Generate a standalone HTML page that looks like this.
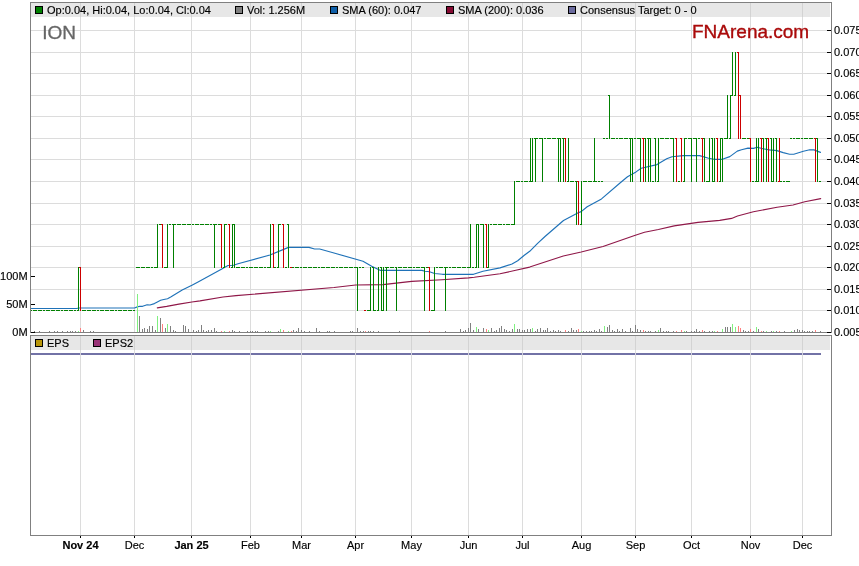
<!DOCTYPE html>
<html lang="en"><head><meta charset="utf-8"><title>ION chart</title>
<style>html,body{margin:0;padding:0;background:#fff;}svg{display:block;}</style>
</head><body>
<svg width="859" height="566" viewBox="0 0 859 566" font-family="'Liberation Sans', Arial, sans-serif" font-size="11px">
<rect x="0" y="0" width="859" height="566" fill="#ffffff"/>
<g shape-rendering="crispEdges">
<rect x="31" y="310" width="800" height="1" fill="#dcdcdc"/>
<rect x="31" y="289" width="800" height="1" fill="#dcdcdc"/>
<rect x="31" y="267" width="800" height="1" fill="#dcdcdc"/>
<rect x="31" y="246" width="800" height="1" fill="#dcdcdc"/>
<rect x="31" y="224" width="800" height="1" fill="#dcdcdc"/>
<rect x="31" y="203" width="800" height="1" fill="#dcdcdc"/>
<rect x="31" y="181" width="800" height="1" fill="#dcdcdc"/>
<rect x="31" y="159" width="800" height="1" fill="#dcdcdc"/>
<rect x="31" y="138" width="800" height="1" fill="#dcdcdc"/>
<rect x="31" y="116" width="800" height="1" fill="#dcdcdc"/>
<rect x="31" y="95" width="800" height="1" fill="#dcdcdc"/>
<rect x="31" y="73" width="800" height="1" fill="#dcdcdc"/>
<rect x="31" y="52" width="800" height="1" fill="#dcdcdc"/>
<rect x="31" y="30" width="800" height="1" fill="#dcdcdc"/>
<rect x="80" y="3" width="1" height="329" fill="#dcdcdc"/>
<rect x="80" y="336" width="1" height="199" fill="#dcdcdc"/>
<rect x="134" y="3" width="1" height="329" fill="#dcdcdc"/>
<rect x="134" y="336" width="1" height="199" fill="#dcdcdc"/>
<rect x="191" y="3" width="1" height="329" fill="#dcdcdc"/>
<rect x="191" y="336" width="1" height="199" fill="#dcdcdc"/>
<rect x="250" y="3" width="1" height="329" fill="#dcdcdc"/>
<rect x="250" y="336" width="1" height="199" fill="#dcdcdc"/>
<rect x="301" y="3" width="1" height="329" fill="#dcdcdc"/>
<rect x="301" y="336" width="1" height="199" fill="#dcdcdc"/>
<rect x="355" y="3" width="1" height="329" fill="#dcdcdc"/>
<rect x="355" y="336" width="1" height="199" fill="#dcdcdc"/>
<rect x="411" y="3" width="1" height="329" fill="#dcdcdc"/>
<rect x="411" y="336" width="1" height="199" fill="#dcdcdc"/>
<rect x="468" y="3" width="1" height="329" fill="#dcdcdc"/>
<rect x="468" y="336" width="1" height="199" fill="#dcdcdc"/>
<rect x="522" y="3" width="1" height="329" fill="#dcdcdc"/>
<rect x="522" y="336" width="1" height="199" fill="#dcdcdc"/>
<rect x="581" y="3" width="1" height="329" fill="#dcdcdc"/>
<rect x="581" y="336" width="1" height="199" fill="#dcdcdc"/>
<rect x="635" y="3" width="1" height="329" fill="#dcdcdc"/>
<rect x="635" y="336" width="1" height="199" fill="#dcdcdc"/>
<rect x="691" y="3" width="1" height="329" fill="#dcdcdc"/>
<rect x="691" y="336" width="1" height="199" fill="#dcdcdc"/>
<rect x="750" y="3" width="1" height="329" fill="#dcdcdc"/>
<rect x="750" y="336" width="1" height="199" fill="#dcdcdc"/>
<rect x="802" y="3" width="1" height="329" fill="#dcdcdc"/>
<rect x="802" y="336" width="1" height="199" fill="#dcdcdc"/>
</g>
<polyline points="157.3,307.9 166.7,306.4 178.9,304.1 191.9,302.0 200.0,300.9 223.0,297.0 236.0,295.6 334.0,287.5 355.6,285.0 383.0,284.6 411.6,281.4 442.0,279.8 468.5,277.9 474.3,277.3 500.0,273.8 515.8,270.3 529.7,267.1 563.3,256.0 581.2,252.0 603.0,246.5 634.6,235.4 644.5,232.3 658.4,229.5 674.2,225.9 698.0,222.4 719.7,220.4 731.6,218.4 737.5,216.0 753.4,211.7 777.1,207.3 793.0,205.0 804.8,201.8 820.7,198.6" fill="none" stroke="#8f1748" stroke-width="1.1" stroke-linejoin="round" stroke-linecap="round"/>
<polyline points="31.0,308.5 76.5,308.5 79.0,308.0 134.5,308.0 137.3,306.9 139.8,306.3 142.6,306.3 147.1,304.8 150.0,305.0 154.4,303.6 156.9,302.2 160.6,300.3 163.8,299.5 167.5,298.7 170.7,297.1 182.2,290.1 191.9,285.3 197.6,282.2 221.8,269.0 228.0,265.5 233.5,265.2 238.0,263.8 270.0,255.0 288.5,247.4 309.0,247.4 314.6,249.0 319.7,249.0 334.0,253.0 363.0,261.3 371.7,266.3 380.5,270.4 422.0,270.4 425.0,271.3 429.5,271.7 434.6,273.5 442.5,274.3 473.5,274.3 483.0,271.2 500.0,267.9 512.0,264.0 517.7,260.8 524.0,255.5 529.7,251.3 537.6,243.3 545.0,236.5 563.5,220.5 578.2,212.8 581.2,211.6 587.2,206.7 601.5,198.9 620.0,183.0 627.5,176.8 636.0,171.9 641.2,168.3 657.0,164.6 666.7,158.8 672.0,156.8 683.3,155.6 699.6,155.6 708.6,158.2 714.0,159.3 722.4,159.3 729.8,156.6 737.3,151.1 741.5,149.7 748.0,148.1 753.5,148.4 757.2,147.3 763.0,148.7 769.4,149.9 776.9,150.6 783.2,152.6 789.6,154.2 793.8,154.2 803.4,151.3 809.7,149.7 814.0,149.9 820.5,152.4" fill="none" stroke="#1f72b8" stroke-width="1.15" stroke-linejoin="round" stroke-linecap="round"/>
<g shape-rendering="crispEdges">
<rect x="34" y="331" width="1" height="1" fill="#808080"/>
<rect x="39" y="331" width="1" height="1" fill="#808080"/>
<rect x="49" y="331" width="1" height="1" fill="#808080"/>
<rect x="54" y="331" width="1" height="1" fill="#808080"/>
<rect x="57" y="331" width="1" height="1" fill="#808080"/>
<rect x="62" y="331" width="1" height="1" fill="#808080"/>
<rect x="67" y="331" width="1" height="1" fill="#808080"/>
<rect x="70" y="331" width="1" height="1" fill="#808080"/>
<rect x="72" y="331" width="1" height="1" fill="#808080"/>
<rect x="75" y="331" width="1" height="1" fill="#808080"/>
<rect x="78" y="331" width="1" height="1" fill="#80f080"/>
<rect x="80" y="328" width="1" height="4" fill="#ff8080"/>
<rect x="83" y="330" width="1" height="2" fill="#808080"/>
<rect x="90" y="331" width="1" height="1" fill="#808080"/>
<rect x="93" y="331" width="1" height="1" fill="#808080"/>
<rect x="137" y="294" width="1" height="38" fill="#80f080"/>
<rect x="139" y="316" width="1" height="16" fill="#808080"/>
<rect x="142" y="329" width="1" height="3" fill="#808080"/>
<rect x="144" y="328" width="1" height="4" fill="#808080"/>
<rect x="147" y="329" width="1" height="3" fill="#808080"/>
<rect x="149" y="326" width="1" height="6" fill="#808080"/>
<rect x="152" y="326" width="1" height="6" fill="#808080"/>
<rect x="155" y="330" width="1" height="2" fill="#808080"/>
<rect x="157" y="316" width="1" height="16" fill="#80f080"/>
<rect x="160" y="318" width="1" height="14" fill="#808080"/>
<rect x="162" y="324" width="1" height="8" fill="#ff8080"/>
<rect x="165" y="328" width="1" height="4" fill="#808080"/>
<rect x="167" y="324" width="1" height="8" fill="#80f080"/>
<rect x="170" y="326" width="1" height="6" fill="#808080"/>
<rect x="173" y="330" width="1" height="2" fill="#808080"/>
<rect x="175" y="331" width="1" height="1" fill="#808080"/>
<rect x="183" y="325" width="1" height="7" fill="#808080"/>
<rect x="185" y="326" width="1" height="6" fill="#808080"/>
<rect x="188" y="329" width="1" height="3" fill="#808080"/>
<rect x="193" y="330" width="1" height="2" fill="#808080"/>
<rect x="196" y="331" width="1" height="1" fill="#808080"/>
<rect x="198" y="330" width="1" height="2" fill="#808080"/>
<rect x="201" y="325" width="1" height="7" fill="#808080"/>
<rect x="203" y="330" width="1" height="2" fill="#808080"/>
<rect x="206" y="331" width="1" height="1" fill="#808080"/>
<rect x="208" y="330" width="1" height="2" fill="#808080"/>
<rect x="211" y="330" width="1" height="2" fill="#808080"/>
<rect x="214" y="328" width="1" height="4" fill="#808080"/>
<rect x="216" y="331" width="1" height="1" fill="#808080"/>
<rect x="221" y="331" width="1" height="1" fill="#ff8080"/>
<rect x="224" y="331" width="1" height="1" fill="#80f080"/>
<rect x="229" y="331" width="1" height="1" fill="#ff8080"/>
<rect x="232" y="330" width="1" height="2" fill="#808080"/>
<rect x="234" y="331" width="1" height="1" fill="#808080"/>
<rect x="239" y="331" width="1" height="1" fill="#808080"/>
<rect x="247" y="331" width="1" height="1" fill="#808080"/>
<rect x="250" y="331" width="1" height="1" fill="#808080"/>
<rect x="252" y="331" width="1" height="1" fill="#808080"/>
<rect x="255" y="331" width="1" height="1" fill="#808080"/>
<rect x="257" y="331" width="1" height="1" fill="#808080"/>
<rect x="265" y="331" width="1" height="1" fill="#808080"/>
<rect x="268" y="331" width="1" height="1" fill="#808080"/>
<rect x="270" y="331" width="1" height="1" fill="#80f080"/>
<rect x="278" y="331" width="1" height="1" fill="#808080"/>
<rect x="280" y="329" width="1" height="3" fill="#80f080"/>
<rect x="283" y="330" width="1" height="2" fill="#ff8080"/>
<rect x="288" y="331" width="1" height="1" fill="#80f080"/>
<rect x="291" y="331" width="1" height="1" fill="#ff8080"/>
<rect x="293" y="330" width="1" height="2" fill="#808080"/>
<rect x="296" y="331" width="1" height="1" fill="#808080"/>
<rect x="298" y="328" width="1" height="4" fill="#808080"/>
<rect x="301" y="330" width="1" height="2" fill="#808080"/>
<rect x="304" y="331" width="1" height="1" fill="#808080"/>
<rect x="309" y="331" width="1" height="1" fill="#808080"/>
<rect x="316" y="328" width="1" height="4" fill="#808080"/>
<rect x="319" y="331" width="1" height="1" fill="#808080"/>
<rect x="327" y="331" width="1" height="1" fill="#808080"/>
<rect x="329" y="331" width="1" height="1" fill="#808080"/>
<rect x="334" y="331" width="1" height="1" fill="#808080"/>
<rect x="350" y="331" width="1" height="1" fill="#808080"/>
<rect x="352" y="331" width="1" height="1" fill="#808080"/>
<rect x="357" y="328" width="1" height="4" fill="#808080"/>
<rect x="360" y="331" width="1" height="1" fill="#808080"/>
<rect x="363" y="331" width="1" height="1" fill="#808080"/>
<rect x="365" y="331" width="1" height="1" fill="#ff8080"/>
<rect x="368" y="331" width="1" height="1" fill="#808080"/>
<rect x="370" y="331" width="1" height="1" fill="#808080"/>
<rect x="373" y="331" width="1" height="1" fill="#808080"/>
<rect x="378" y="331" width="1" height="1" fill="#808080"/>
<rect x="399" y="331" width="1" height="1" fill="#808080"/>
<rect x="429" y="331" width="1" height="1" fill="#ff8080"/>
<rect x="445" y="331" width="1" height="1" fill="#808080"/>
<rect x="460" y="329" width="1" height="3" fill="#808080"/>
<rect x="463" y="331" width="1" height="1" fill="#808080"/>
<rect x="465" y="330" width="1" height="2" fill="#808080"/>
<rect x="468" y="328" width="1" height="4" fill="#808080"/>
<rect x="470" y="323" width="1" height="9" fill="#808080"/>
<rect x="473" y="330" width="1" height="2" fill="#808080"/>
<rect x="476" y="327" width="1" height="5" fill="#80f080"/>
<rect x="478" y="329" width="1" height="3" fill="#808080"/>
<rect x="483" y="328" width="1" height="4" fill="#808080"/>
<rect x="486" y="329" width="1" height="3" fill="#ff8080"/>
<rect x="488" y="330" width="1" height="2" fill="#80f080"/>
<rect x="491" y="328" width="1" height="4" fill="#808080"/>
<rect x="494" y="331" width="1" height="1" fill="#808080"/>
<rect x="496" y="330" width="1" height="2" fill="#808080"/>
<rect x="499" y="328" width="1" height="4" fill="#808080"/>
<rect x="501" y="326" width="1" height="6" fill="#808080"/>
<rect x="504" y="329" width="1" height="3" fill="#808080"/>
<rect x="506" y="330" width="1" height="2" fill="#808080"/>
<rect x="509" y="331" width="1" height="1" fill="#808080"/>
<rect x="512" y="329" width="1" height="3" fill="#808080"/>
<rect x="514" y="324" width="1" height="8" fill="#80f080"/>
<rect x="517" y="329" width="1" height="3" fill="#808080"/>
<rect x="519" y="329" width="1" height="3" fill="#808080"/>
<rect x="522" y="330" width="1" height="2" fill="#808080"/>
<rect x="524" y="330" width="1" height="2" fill="#808080"/>
<rect x="527" y="329" width="1" height="3" fill="#808080"/>
<rect x="530" y="329" width="1" height="3" fill="#808080"/>
<rect x="532" y="328" width="1" height="4" fill="#80f080"/>
<rect x="535" y="331" width="1" height="1" fill="#808080"/>
<rect x="537" y="329" width="1" height="3" fill="#808080"/>
<rect x="540" y="328" width="1" height="4" fill="#808080"/>
<rect x="543" y="330" width="1" height="2" fill="#808080"/>
<rect x="545" y="330" width="1" height="2" fill="#808080"/>
<rect x="547" y="328" width="1" height="4" fill="#808080"/>
<rect x="550" y="331" width="1" height="1" fill="#808080"/>
<rect x="553" y="330" width="1" height="2" fill="#808080"/>
<rect x="555" y="331" width="1" height="1" fill="#808080"/>
<rect x="558" y="330" width="1" height="2" fill="#808080"/>
<rect x="560" y="331" width="1" height="1" fill="#808080"/>
<rect x="565" y="330" width="1" height="2" fill="#ff8080"/>
<rect x="568" y="331" width="1" height="1" fill="#808080"/>
<rect x="571" y="328" width="1" height="4" fill="#808080"/>
<rect x="573" y="330" width="1" height="2" fill="#808080"/>
<rect x="576" y="330" width="1" height="2" fill="#808080"/>
<rect x="578" y="329" width="1" height="3" fill="#ff8080"/>
<rect x="581" y="331" width="1" height="1" fill="#80f080"/>
<rect x="583" y="331" width="1" height="1" fill="#808080"/>
<rect x="586" y="331" width="1" height="1" fill="#808080"/>
<rect x="589" y="331" width="1" height="1" fill="#808080"/>
<rect x="591" y="331" width="1" height="1" fill="#808080"/>
<rect x="594" y="330" width="1" height="2" fill="#808080"/>
<rect x="596" y="331" width="1" height="1" fill="#808080"/>
<rect x="599" y="329" width="1" height="3" fill="#808080"/>
<rect x="601" y="331" width="1" height="1" fill="#808080"/>
<rect x="604" y="326" width="1" height="6" fill="#80f080"/>
<rect x="607" y="327" width="1" height="5" fill="#808080"/>
<rect x="609" y="325" width="1" height="7" fill="#808080"/>
<rect x="612" y="330" width="1" height="2" fill="#808080"/>
<rect x="614" y="331" width="1" height="1" fill="#808080"/>
<rect x="617" y="329" width="1" height="3" fill="#808080"/>
<rect x="619" y="331" width="1" height="1" fill="#808080"/>
<rect x="622" y="329" width="1" height="3" fill="#808080"/>
<rect x="625" y="331" width="1" height="1" fill="#808080"/>
<rect x="630" y="328" width="1" height="4" fill="#808080"/>
<rect x="632" y="331" width="1" height="1" fill="#808080"/>
<rect x="635" y="325" width="1" height="7" fill="#808080"/>
<rect x="637" y="329" width="1" height="3" fill="#808080"/>
<rect x="640" y="330" width="1" height="2" fill="#808080"/>
<rect x="643" y="330" width="1" height="2" fill="#ff8080"/>
<rect x="645" y="331" width="1" height="1" fill="#808080"/>
<rect x="648" y="331" width="1" height="1" fill="#808080"/>
<rect x="650" y="331" width="1" height="1" fill="#808080"/>
<rect x="655" y="331" width="1" height="1" fill="#808080"/>
<rect x="658" y="330" width="1" height="2" fill="#80f080"/>
<rect x="660" y="328" width="1" height="4" fill="#808080"/>
<rect x="663" y="331" width="1" height="1" fill="#808080"/>
<rect x="666" y="331" width="1" height="1" fill="#808080"/>
<rect x="668" y="331" width="1" height="1" fill="#808080"/>
<rect x="673" y="331" width="1" height="1" fill="#808080"/>
<rect x="676" y="331" width="1" height="1" fill="#ff8080"/>
<rect x="681" y="330" width="1" height="2" fill="#ff8080"/>
<rect x="684" y="331" width="1" height="1" fill="#80f080"/>
<rect x="686" y="331" width="1" height="1" fill="#808080"/>
<rect x="691" y="331" width="1" height="1" fill="#808080"/>
<rect x="694" y="331" width="1" height="1" fill="#808080"/>
<rect x="696" y="329" width="1" height="3" fill="#808080"/>
<rect x="699" y="331" width="1" height="1" fill="#808080"/>
<rect x="702" y="330" width="1" height="2" fill="#ff8080"/>
<rect x="704" y="331" width="1" height="1" fill="#808080"/>
<rect x="709" y="331" width="1" height="1" fill="#808080"/>
<rect x="712" y="331" width="1" height="1" fill="#808080"/>
<rect x="714" y="331" width="1" height="1" fill="#80f080"/>
<rect x="717" y="331" width="1" height="1" fill="#ff8080"/>
<rect x="722" y="329" width="1" height="3" fill="#80f080"/>
<rect x="725" y="327" width="1" height="5" fill="#808080"/>
<rect x="727" y="327" width="1" height="5" fill="#808080"/>
<rect x="730" y="327" width="1" height="5" fill="#808080"/>
<rect x="732" y="324" width="1" height="8" fill="#80f080"/>
<rect x="735" y="327" width="1" height="5" fill="#80f080"/>
<rect x="738" y="326" width="1" height="6" fill="#ff8080"/>
<rect x="740" y="328" width="1" height="4" fill="#ff8080"/>
<rect x="743" y="330" width="1" height="2" fill="#808080"/>
<rect x="745" y="331" width="1" height="1" fill="#808080"/>
<rect x="748" y="331" width="1" height="1" fill="#808080"/>
<rect x="750" y="329" width="1" height="3" fill="#ff8080"/>
<rect x="753" y="331" width="1" height="1" fill="#808080"/>
<rect x="756" y="327" width="1" height="5" fill="#80f080"/>
<rect x="758" y="329" width="1" height="3" fill="#808080"/>
<rect x="761" y="331" width="1" height="1" fill="#ff8080"/>
<rect x="763" y="331" width="1" height="1" fill="#808080"/>
<rect x="766" y="331" width="1" height="1" fill="#80f080"/>
<rect x="771" y="331" width="1" height="1" fill="#808080"/>
<rect x="773" y="331" width="1" height="1" fill="#80f080"/>
<rect x="776" y="331" width="1" height="1" fill="#808080"/>
<rect x="779" y="331" width="1" height="1" fill="#ff8080"/>
<rect x="784" y="331" width="1" height="1" fill="#808080"/>
<rect x="791" y="331" width="1" height="1" fill="#80f080"/>
<rect x="794" y="330" width="1" height="2" fill="#808080"/>
<rect x="797" y="329" width="1" height="3" fill="#808080"/>
<rect x="799" y="330" width="1" height="2" fill="#808080"/>
<rect x="802" y="330" width="1" height="2" fill="#808080"/>
<rect x="804" y="331" width="1" height="1" fill="#808080"/>
<rect x="807" y="331" width="1" height="1" fill="#808080"/>
<rect x="809" y="331" width="1" height="1" fill="#808080"/>
<rect x="812" y="331" width="1" height="1" fill="#808080"/>
<rect x="815" y="330" width="1" height="2" fill="#ff8080"/>
<rect x="820" y="331" width="1" height="1" fill="#808080"/>
</g>
<path d="M30 310.5h2M33 310.5h2M35 310.5h2M38 310.5h2M40 310.5h2M43 310.5h2M46 310.5h2M48 310.5h2M51 310.5h2M53 310.5h2M56 310.5h2M58 310.5h2M61 310.5h2M64 310.5h2M66 310.5h2M69 310.5h2M71 310.5h2M74 310.5h2M77 310.5h2M78.5 267V311M82 310.5h2M84 310.5h2M87 310.5h2M89 310.5h2M92 310.5h2M94 310.5h2M97 310.5h2M100 310.5h2M102 310.5h2M105 310.5h2M107 310.5h2M110 310.5h2M112 310.5h2M115 310.5h2M118 310.5h2M120 310.5h2M123 310.5h2M125 310.5h2M128 310.5h2M130 310.5h2M133 310.5h2M136 267.5h2M138 267.5h2M141 267.5h2M143 267.5h2M146 267.5h2M148 267.5h2M151 267.5h2M154 267.5h2M156 267.5h2M157.5 224V268M159 224.5h2M164 267.5h2M166 267.5h2M167.5 224V268M169 224.5h2M172 224.5h2M173.5 224V268M174 224.5h2M177 224.5h2M179 224.5h2M182 224.5h2M184 224.5h2M187 224.5h2M189 224.5h2M192 224.5h2M195 224.5h2M197 224.5h2M200 224.5h2M202 224.5h2M205 224.5h2M207 224.5h2M210 224.5h2M213 224.5h2M214.5 224V268M215 224.5h2M218 224.5h2M223 267.5h2M224.5 224V268M225 224.5h2M231 267.5h2M232.5 224V268M233 224.5h2M234.5 224V268M236 267.5h2M238 267.5h2M241 267.5h2M243 267.5h2M246 267.5h2M249 267.5h2M251 267.5h2M254 267.5h2M256 267.5h2M259 267.5h2M261 267.5h2M264 267.5h2M267 267.5h2M269 267.5h2M270.5 224V268M274 267.5h2M277 267.5h2M278.5 224V268M279 224.5h2M285 267.5h2M287 224.5h2M288.5 224V268M292 267.5h2M295 267.5h2M297 267.5h2M300 267.5h2M303 267.5h2M305 267.5h2M308 267.5h2M310 267.5h2M313 267.5h2M315 267.5h2M318 267.5h2M321 267.5h2M323 267.5h2M326 267.5h2M328 267.5h2M331 267.5h2M333 267.5h2M336 267.5h2M339 267.5h2M341 267.5h2M344 267.5h2M346 267.5h2M349 267.5h2M351 267.5h2M354 267.5h2M356 267.5h2M357.5 267V311M359 267.5h2M362 267.5h2M367 310.5h2M369 310.5h2M370.5 267V311M372 267.5h2M373.5 267V311M374 310.5h2M377 310.5h2M378.5 267V311M380 267.5h2M381.5 267V311M382 310.5h2M383.5 267V311M385 267.5h2M386.5 267V311M387 267.5h2M390 267.5h2M392 267.5h2M395 267.5h2M396.5 267V311M398 267.5h2M400 267.5h2M403 267.5h2M405 267.5h2M408 267.5h2M410 267.5h2M413 267.5h2M416 267.5h2M418 267.5h2M421 267.5h2M423 267.5h2M424.5 267V311M426 267.5h2M431 310.5h2M433 310.5h2M434.5 267V311M436 267.5h2M439 267.5h2M441 267.5h2M444 267.5h2M445.5 267V311M446 267.5h2M449 267.5h2M452 267.5h2M454 267.5h2M457 267.5h2M459 267.5h2M462 267.5h2M464 267.5h2M467 267.5h2M469 267.5h2M470.5 224V268M472 267.5h2M475 267.5h2M476.5 224V268M477 224.5h2M478.5 224V268M480 224.5h2M482 224.5h2M483.5 224V268M487 267.5h2M488.5 224V268M490 224.5h2M493 224.5h2M495 224.5h2M498 224.5h2M500 224.5h2M503 224.5h2M506 224.5h2M508 224.5h2M511 224.5h2M513 224.5h2M514.5 181V225M516 181.5h2M518 181.5h2M521 181.5h2M524 181.5h2M526 181.5h2M529 181.5h2M530.5 138V182M531 181.5h2M532.5 138V182M534 138.5h2M535.5 138V182M536 138.5h2M539 138.5h2M541 138.5h2M542.5 138V182M544 138.5h2M547 138.5h2M549 138.5h2M552 138.5h2M554 138.5h2M557 138.5h2M558.5 138V182M559 138.5h2M560.5 138V182M562 138.5h2M563.5 138V182M567 181.5h2M568.5 138V182M570 181.5h2M572 181.5h2M575 181.5h2M576.5 181V225M580 224.5h2M581.5 181V225M583 181.5h2M585 181.5h2M588 181.5h2M590 181.5h2M593 181.5h2M594.5 138V182M595 181.5h2M598 181.5h2M601 181.5h2M603 138.5h2M606 138.5h2M608 95.5h2M609.5 95V139M611 138.5h2M613 138.5h2M616 138.5h2M619 138.5h2M621 138.5h2M624 138.5h2M626 138.5h2M629 138.5h2M630.5 138V182M631 138.5h2M632.5 138V182M634 138.5h2M637 138.5h2M639 138.5h2M640.5 138V182M644 138.5h2M645.5 138V182M647 138.5h2M648.5 138V182M649 138.5h2M650.5 138V182M652 181.5h2M654 138.5h2M655.5 138V182M657 181.5h2M658.5 138V182M660 138.5h2M662 138.5h2M665 138.5h2M667 138.5h2M670 138.5h2M672 138.5h2M673.5 138V182M678 181.5h2M683 181.5h2M684.5 138V182M685 138.5h2M688 138.5h2M690 138.5h2M691.5 138V182M693 138.5h2M695 138.5h2M696.5 138V182M698 138.5h2M703 138.5h2M704.5 138V182M706 181.5h2M708 181.5h2M709.5 138V182M711 138.5h2M712.5 138V182M713 181.5h2M714.5 138V182M719 181.5h2M720.5 138V182M721 138.5h2M722.5 138V182M724 138.5h2M726 138.5h2M727.5 95V139M729 138.5h2M730.5 95V139M731 95.5h2M732.5 52V96M734 95.5h2M735.5 52V96M742 138.5h2M744 138.5h2M747 138.5h2M752 181.5h2M755 181.5h2M756.5 138V182M757 181.5h2M758.5 138V182M762 138.5h2M763.5 138V182M765 138.5h2M766.5 138V182M770 138.5h2M771.5 138V182M772 181.5h2M773.5 138V182M775 138.5h2M776.5 138V182M780 181.5h2M783 181.5h2M786 181.5h2M788 181.5h2M790 138.5h2M793 138.5h2M796 138.5h2M798 138.5h2M801 138.5h2M804 138.5h2M806 138.5h2M809 138.5h2M811 138.5h2M816 138.5h2M817.5 138V182M819 181.5h2" stroke="#008000" stroke-width="1" fill="none" shape-rendering="crispEdges"/>
<path d="M79 267.5h2M80.5 267V311M161 224.5h2M162.5 224V268M220 224.5h2M221.5 224V268M228 224.5h2M229.5 224V268M272 224.5h2M273.5 224V268M282 224.5h2M283.5 224V268M290 267.5h2M364 310.5h2M428 267.5h2M429.5 267V311M485 224.5h2M486.5 224V268M564 138.5h2M565.5 138V182M577 181.5h2M578.5 181V225M642 138.5h2M643.5 138V182M675 138.5h2M676.5 138V182M680 138.5h2M681.5 138V182M701 138.5h2M702.5 138V182M716 138.5h2M717.5 138V182M737 52.5h2M738.5 52V139M739 95.5h2M740.5 95V139M749 138.5h2M750.5 138V182M760 138.5h2M761.5 138V182M767 138.5h2M768.5 138V182M778 181.5h2M779.5 138V182M814 138.5h2M815.5 138V182" stroke="#cc0000" stroke-width="1" fill="none" shape-rendering="crispEdges"/>
<g shape-rendering="crispEdges">
<rect x="31" y="3" width="799" height="14" fill="#808080" fill-opacity="0.19"/>
<rect x="31" y="336" width="799" height="14" fill="#808080" fill-opacity="0.19"/>
<rect x="80" y="3" width="1" height="14" fill="#d3d3d3"/>
<rect x="80" y="336" width="1" height="14" fill="#d3d3d3"/>
<rect x="134" y="3" width="1" height="14" fill="#d3d3d3"/>
<rect x="134" y="336" width="1" height="14" fill="#d3d3d3"/>
<rect x="191" y="3" width="1" height="14" fill="#d3d3d3"/>
<rect x="191" y="336" width="1" height="14" fill="#d3d3d3"/>
<rect x="250" y="3" width="1" height="14" fill="#d3d3d3"/>
<rect x="250" y="336" width="1" height="14" fill="#d3d3d3"/>
<rect x="301" y="3" width="1" height="14" fill="#d3d3d3"/>
<rect x="301" y="336" width="1" height="14" fill="#d3d3d3"/>
<rect x="355" y="3" width="1" height="14" fill="#d3d3d3"/>
<rect x="355" y="336" width="1" height="14" fill="#d3d3d3"/>
<rect x="411" y="3" width="1" height="14" fill="#d3d3d3"/>
<rect x="411" y="336" width="1" height="14" fill="#d3d3d3"/>
<rect x="468" y="3" width="1" height="14" fill="#d3d3d3"/>
<rect x="468" y="336" width="1" height="14" fill="#d3d3d3"/>
<rect x="522" y="3" width="1" height="14" fill="#d3d3d3"/>
<rect x="522" y="336" width="1" height="14" fill="#d3d3d3"/>
<rect x="581" y="3" width="1" height="14" fill="#d3d3d3"/>
<rect x="581" y="336" width="1" height="14" fill="#d3d3d3"/>
<rect x="635" y="3" width="1" height="14" fill="#d3d3d3"/>
<rect x="635" y="336" width="1" height="14" fill="#d3d3d3"/>
<rect x="691" y="3" width="1" height="14" fill="#d3d3d3"/>
<rect x="691" y="336" width="1" height="14" fill="#d3d3d3"/>
<rect x="750" y="3" width="1" height="14" fill="#d3d3d3"/>
<rect x="750" y="336" width="1" height="14" fill="#d3d3d3"/>
<rect x="802" y="3" width="1" height="14" fill="#d3d3d3"/>
<rect x="802" y="336" width="1" height="14" fill="#d3d3d3"/>
<rect x="31" y="353" width="790" height="2" fill="#7272a6"/>
<rect x="80" y="353" width="1" height="2" fill="#d0d0dc"/>
<rect x="134" y="353" width="1" height="2" fill="#d0d0dc"/>
<rect x="191" y="353" width="1" height="2" fill="#d0d0dc"/>
<rect x="250" y="353" width="1" height="2" fill="#d0d0dc"/>
<rect x="301" y="353" width="1" height="2" fill="#d0d0dc"/>
<rect x="355" y="353" width="1" height="2" fill="#d0d0dc"/>
<rect x="411" y="353" width="1" height="2" fill="#d0d0dc"/>
<rect x="468" y="353" width="1" height="2" fill="#d0d0dc"/>
<rect x="522" y="353" width="1" height="2" fill="#d0d0dc"/>
<rect x="581" y="353" width="1" height="2" fill="#d0d0dc"/>
<rect x="635" y="353" width="1" height="2" fill="#d0d0dc"/>
<rect x="691" y="353" width="1" height="2" fill="#d0d0dc"/>
<rect x="750" y="353" width="1" height="2" fill="#d0d0dc"/>
<rect x="802" y="353" width="1" height="2" fill="#d0d0dc"/>
<rect x="30" y="2" width="802" height="1" fill="#808080"/>
<rect x="30" y="332" width="802" height="1" fill="#808080"/>
<rect x="30" y="2" width="1" height="331" fill="#808080"/>
<rect x="831" y="2" width="1" height="331" fill="#808080"/>
<rect x="831" y="335" width="1" height="201" fill="#808080"/>
<rect x="30" y="335" width="802" height="1" fill="#808080"/>
<rect x="30" y="535" width="802" height="1" fill="#808080"/>
<rect x="30" y="335" width="1" height="201" fill="#808080"/>
<rect x="827" y="332" width="4" height="1" fill="#000"/>
<rect x="827" y="310" width="4" height="1" fill="#000"/>
<rect x="827" y="289" width="4" height="1" fill="#000"/>
<rect x="827" y="267" width="4" height="1" fill="#000"/>
<rect x="827" y="246" width="4" height="1" fill="#000"/>
<rect x="827" y="224" width="4" height="1" fill="#000"/>
<rect x="827" y="203" width="4" height="1" fill="#000"/>
<rect x="827" y="181" width="4" height="1" fill="#000"/>
<rect x="827" y="159" width="4" height="1" fill="#000"/>
<rect x="827" y="138" width="4" height="1" fill="#000"/>
<rect x="827" y="116" width="4" height="1" fill="#000"/>
<rect x="827" y="95" width="4" height="1" fill="#000"/>
<rect x="827" y="73" width="4" height="1" fill="#000"/>
<rect x="827" y="52" width="4" height="1" fill="#000"/>
<rect x="827" y="30" width="4" height="1" fill="#000"/>
<rect x="31" y="276" width="4" height="1" fill="#000"/>
<rect x="31" y="304" width="4" height="1" fill="#000"/>
<rect x="31" y="332" width="4" height="1" fill="#000"/>
<rect x="80" y="536" width="1" height="2" fill="#000"/>
<rect x="134" y="536" width="1" height="2" fill="#000"/>
<rect x="191" y="536" width="1" height="2" fill="#000"/>
<rect x="250" y="536" width="1" height="2" fill="#000"/>
<rect x="301" y="536" width="1" height="2" fill="#000"/>
<rect x="355" y="536" width="1" height="2" fill="#000"/>
<rect x="411" y="536" width="1" height="2" fill="#000"/>
<rect x="468" y="536" width="1" height="2" fill="#000"/>
<rect x="522" y="536" width="1" height="2" fill="#000"/>
<rect x="581" y="536" width="1" height="2" fill="#000"/>
<rect x="635" y="536" width="1" height="2" fill="#000"/>
<rect x="691" y="536" width="1" height="2" fill="#000"/>
<rect x="750" y="536" width="1" height="2" fill="#000"/>
<rect x="802" y="536" width="1" height="2" fill="#000"/>
</g>
<rect x="35.5" y="6.5" width="7" height="7" fill="#008000" stroke="#000" stroke-width="1" shape-rendering="crispEdges"/>
<text x="47" y="13.7" text-anchor="start" stroke="#000" stroke-width="0.15">Op:0.04, Hi:0.04, Lo:0.04, Cl:0.04</text>
<rect x="235.5" y="6.5" width="7" height="7" fill="#808080" stroke="#000" stroke-width="1" shape-rendering="crispEdges"/>
<text x="247" y="13.7" text-anchor="start" stroke="#000" stroke-width="0.15">Vol: 1.256M</text>
<rect x="330.5" y="6.5" width="7" height="7" fill="#0f5fa8" stroke="#000" stroke-width="1" shape-rendering="crispEdges"/>
<text x="342" y="13.7" text-anchor="start" stroke="#000" stroke-width="0.15">SMA (60): 0.047</text>
<rect x="446.5" y="6.5" width="7" height="7" fill="#850a32" stroke="#000" stroke-width="1" shape-rendering="crispEdges"/>
<text x="458" y="13.7" text-anchor="start" stroke="#000" stroke-width="0.15">SMA (200): 0.036</text>
<rect x="568.5" y="6.5" width="7" height="7" fill="#6b6b9e" stroke="#000" stroke-width="1" shape-rendering="crispEdges"/>
<text x="580" y="13.7" text-anchor="start" stroke="#000" stroke-width="0.15">Consensus Target: 0 - 0</text>
<rect x="35.5" y="339.5" width="7" height="7" fill="#b8960a" stroke="#000" stroke-width="1" shape-rendering="crispEdges"/>
<text x="47" y="346.7" text-anchor="start" stroke="#000" stroke-width="0.15">EPS</text>
<rect x="93.5" y="339.5" width="7" height="7" fill="#993377" stroke="#000" stroke-width="1" shape-rendering="crispEdges"/>
<text x="105" y="346.7" text-anchor="start" stroke="#000" stroke-width="0.15">EPS2</text>
<text x="42.3" y="38.5" text-anchor="start" font-size="19px" fill="#666666" stroke="#666666" stroke-width="0.3">ION</text>
<text x="692" y="38.3" text-anchor="start" font-size="19px" fill="#aa0a0a" stroke="#aa0a0a" stroke-width="0.35">FNArena.com</text>
<text x="834" y="336.3" text-anchor="start" stroke="#000" stroke-width="0.15">0.005</text>
<text x="834" y="314.3" text-anchor="start" stroke="#000" stroke-width="0.15">0.010</text>
<text x="834" y="293.3" text-anchor="start" stroke="#000" stroke-width="0.15">0.015</text>
<text x="834" y="271.3" text-anchor="start" stroke="#000" stroke-width="0.15">0.020</text>
<text x="834" y="250.3" text-anchor="start" stroke="#000" stroke-width="0.15">0.025</text>
<text x="834" y="228.3" text-anchor="start" stroke="#000" stroke-width="0.15">0.030</text>
<text x="834" y="207.3" text-anchor="start" stroke="#000" stroke-width="0.15">0.035</text>
<text x="834" y="185.3" text-anchor="start" stroke="#000" stroke-width="0.15">0.040</text>
<text x="834" y="163.3" text-anchor="start" stroke="#000" stroke-width="0.15">0.045</text>
<text x="834" y="142.3" text-anchor="start" stroke="#000" stroke-width="0.15">0.050</text>
<text x="834" y="120.3" text-anchor="start" stroke="#000" stroke-width="0.15">0.055</text>
<text x="834" y="99.3" text-anchor="start" stroke="#000" stroke-width="0.15">0.060</text>
<text x="834" y="77.3" text-anchor="start" stroke="#000" stroke-width="0.15">0.065</text>
<text x="834" y="56.3" text-anchor="start" stroke="#000" stroke-width="0.15">0.070</text>
<text x="834" y="34.3" text-anchor="start" stroke="#000" stroke-width="0.15">0.075</text>
<text x="27.6" y="280.3" text-anchor="end" stroke="#000" stroke-width="0.15">100M</text>
<text x="27.6" y="308.3" text-anchor="end" stroke="#000" stroke-width="0.15">50M</text>
<text x="27.6" y="336.3" text-anchor="end" stroke="#000" stroke-width="0.15">0M</text>
<text x="80.5" y="548.8" text-anchor="middle" font-weight="bold" stroke="#000" stroke-width="0.15">Nov 24</text>
<text x="134.5" y="548.8" text-anchor="middle" stroke="#000" stroke-width="0.15">Dec</text>
<text x="191.5" y="548.8" text-anchor="middle" font-weight="bold" stroke="#000" stroke-width="0.15">Jan 25</text>
<text x="250.5" y="548.8" text-anchor="middle" stroke="#000" stroke-width="0.15">Feb</text>
<text x="301.5" y="548.8" text-anchor="middle" stroke="#000" stroke-width="0.15">Mar</text>
<text x="355.5" y="548.8" text-anchor="middle" stroke="#000" stroke-width="0.15">Apr</text>
<text x="411.5" y="548.8" text-anchor="middle" stroke="#000" stroke-width="0.15">May</text>
<text x="468.5" y="548.8" text-anchor="middle" stroke="#000" stroke-width="0.15">Jun</text>
<text x="522.5" y="548.8" text-anchor="middle" stroke="#000" stroke-width="0.15">Jul</text>
<text x="581.5" y="548.8" text-anchor="middle" stroke="#000" stroke-width="0.15">Aug</text>
<text x="635.5" y="548.8" text-anchor="middle" stroke="#000" stroke-width="0.15">Sep</text>
<text x="691.5" y="548.8" text-anchor="middle" stroke="#000" stroke-width="0.15">Oct</text>
<text x="750.5" y="548.8" text-anchor="middle" stroke="#000" stroke-width="0.15">Nov</text>
<text x="802.5" y="548.8" text-anchor="middle" stroke="#000" stroke-width="0.15">Dec</text>
</svg>
</body></html>
